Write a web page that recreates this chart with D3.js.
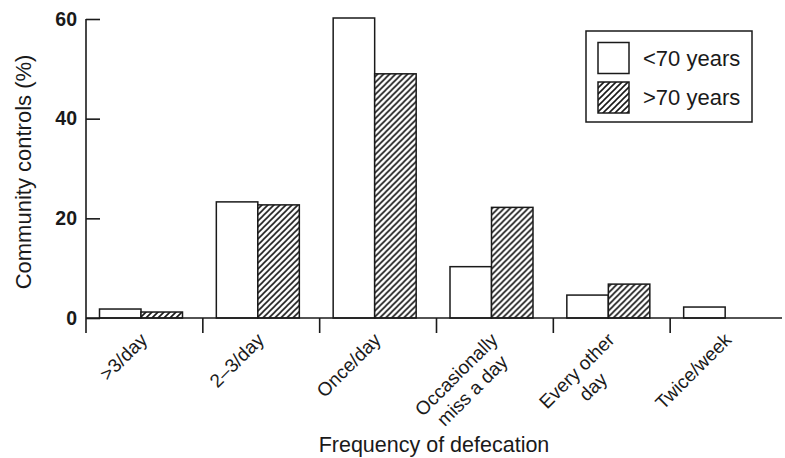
<!DOCTYPE html>
<html>
<head>
<meta charset="utf-8">
<script src="https://cdn.jsdelivr.net/npm/d3@7"></script>
<style>
  html, body { margin: 0; padding: 0; background: #fff; }
  svg { display: block; font-family: 'Liberation Sans', Arial, Helvetica, sans-serif; }
  .axis-line { stroke: #1a1a1a; stroke-width: 1.6; fill: none; }
  .tick-text { font-size: 19.5px; font-weight: bold; fill: #1a1a1a; }
  .cat-text { font-size: 19px; fill: #1a1a1a; }
  .title { font-size: 21.5px; fill: #1a1a1a; }
  .title.y { font-size: 22px; }
  .legend-text { font-size: 22px; fill: #1a1a1a; }
  .bar { stroke: #1a1a1a; stroke-width: 1.5; }
</style>
</head>
<body>
<div id="chart"></div>
<script>
// data
const categories = ['>3/day', '2–3/day', 'Once/day', 'Occasionally miss a day', 'Every other day', 'Twice/week'];
const categoryLines = [['>3/day'], ['2–3/day'], ['Once/day'], ['Occasionally', 'miss a day'], ['Every other', 'day'], ['Twice/week']];
const series = ['<70 years', '>70 years'];
const under70 = [1.8, 23.3, 60.2, 10.3, 4.6, 2.2];
const over70 = [1.2, 22.7, 49.0, 22.2, 6.8, 0];
const yTicks = [0, 20, 40, 60];

const width = 785;
const height = 458;
const plot = { left: 86, right: 787, top: 19, bottom: 318 };
const tickLen = 15;

const svg = d3.select('#chart')
  .append('svg')
  .attr('width', width)
  .attr('height', height);

// hatch for the >70 series
const pattern = svg.append('defs')
  .append('pattern')
  .attr('id', 'hatch')
  .attr('patternUnits', 'userSpaceOnUse')
  .attr('width', 6)
  .attr('height', 6);
pattern.append('rect').attr('width', 6).attr('height', 6).attr('fill', '#fff');
pattern.append('path')
  .attr('d', 'M-1,1 l2,-2 M0,6 l6,-6 M5,7 l2,-2')
  .attr('stroke', '#1a1a1a')
  .attr('stroke-width', 1.6);

const fills = { '<70 years': '#fff', '>70 years': 'url(#hatch)' };

const x0 = d3.scaleBand()
  .domain(categories)
  .range([plot.left, plot.right])
  .padding(0);

const x1 = d3.scaleBand()
  .domain(series)
  .range([13.5, 13.5 + 83]);

const y = d3.scaleLinear()
  .domain([0, 60])
  .range([plot.bottom, plot.top]);

// bars
const rows = categories.map((c, i) => ({
  category: c,
  values: [
    { key: series[0], value: under70[i] },
    { key: series[1], value: over70[i] },
  ],
}));

svg.selectAll('g.group')
  .data(rows)
  .join('g')
  .attr('class', 'group')
  .attr('transform', d => `translate(${x0(d.category)},0)`)
  .selectAll('rect')
  .data(d => d.values.filter(v => v.value > 0))
  .join('rect')
  .attr('class', 'bar')
  .attr('x', d => x1(d.key))
  .attr('width', x1.bandwidth())
  .attr('y', d => y(d.value))
  .attr('height', d => y(0) - y(d.value))
  .attr('fill', d => fills[d.key]);

// y axis, ticks pointing inward
const yAxis = svg.append('g')
  .attr('transform', `translate(${plot.left},0)`)
  .call(d3.axisLeft(y).tickValues(yTicks).tickSizeInner(-14).tickSizeOuter(0).tickPadding(9));
yAxis.select('.domain').remove();
yAxis.selectAll('line').attr('class', 'axis-line');
yAxis.selectAll('text').attr('class', 'tick-text').attr('font-size', null).attr('font-family', null);
yAxis.append('line')
  .attr('class', 'axis-line')
  .attr('x1', 0).attr('x2', 0)
  .attr('y1', y(60)).attr('y2', y(0) + tickLen);

// x axis with ticks at the band edges
const xAxis = svg.append('g');
xAxis.append('line')
  .attr('class', 'axis-line')
  .attr('x1', plot.left).attr('x2', 782)
  .attr('y1', y(0)).attr('y2', y(0));
xAxis.selectAll('line.tick')
  .data(categories.slice(1))
  .join('line')
  .attr('class', 'axis-line tick')
  .attr('x1', d => x0(d)).attr('x2', d => x0(d))
  .attr('y1', y(0)).attr('y2', y(0) + tickLen);

// rotated category labels
const labels = svg.selectAll('text.cat')
  .data(categories)
  .join('text')
  .attr('class', 'cat-text cat')
  .attr('text-anchor', 'end')
  .attr('transform', d => `translate(${x0(d) + x0.bandwidth() / 2 + 4},341) rotate(-45)`);

labels.each(function (d, i) {
  const lines = categoryLines[i];
  const t = d3.select(this);
  const spans = lines.map((line, k) =>
    t.append('tspan')
      .attr('x', 0)
      .attr('dy', k === 0 ? 0 : '1.2em')
      .text(line));
  const w0 = spans[0].node().getComputedTextLength();
  spans.slice(1).forEach(s => {
    const w = s.node().getComputedTextLength();
    s.attr('x', -(w0 - w) / 2);
  });
});

// axis titles
svg.append('text')
  .attr('class', 'title')
  .attr('text-anchor', 'middle')
  .attr('x', (plot.left + 782) / 2)
  .attr('y', 452)
  .text('Frequency of defecation');

svg.append('text')
  .attr('class', 'title y')
  .attr('text-anchor', 'middle')
  .attr('transform', `translate(31,172) rotate(-90)`)
  .text('Community controls (%)');

// legend
const legend = svg.append('g').attr('transform', 'translate(586,31)');
legend.append('rect')
  .attr('width', 166)
  .attr('height', 91)
  .attr('fill', '#fff')
  .attr('stroke', '#1a1a1a')
  .attr('stroke-width', 1.5);
const items = legend.selectAll('g.item')
  .data(series)
  .join('g')
  .attr('class', 'item')
  .attr('transform', (d, i) => `translate(12,${11.5 + i * 39.5})`);
items.append('rect')
  .attr('class', 'bar')
  .attr('width', 31)
  .attr('height', 31)
  .attr('fill', d => fills[d]);
items.append('text')
  .attr('class', 'legend-text')
  .attr('x', 45)
  .attr('y', 23)
  .text(d => d);
</script>
</body>
</html>
